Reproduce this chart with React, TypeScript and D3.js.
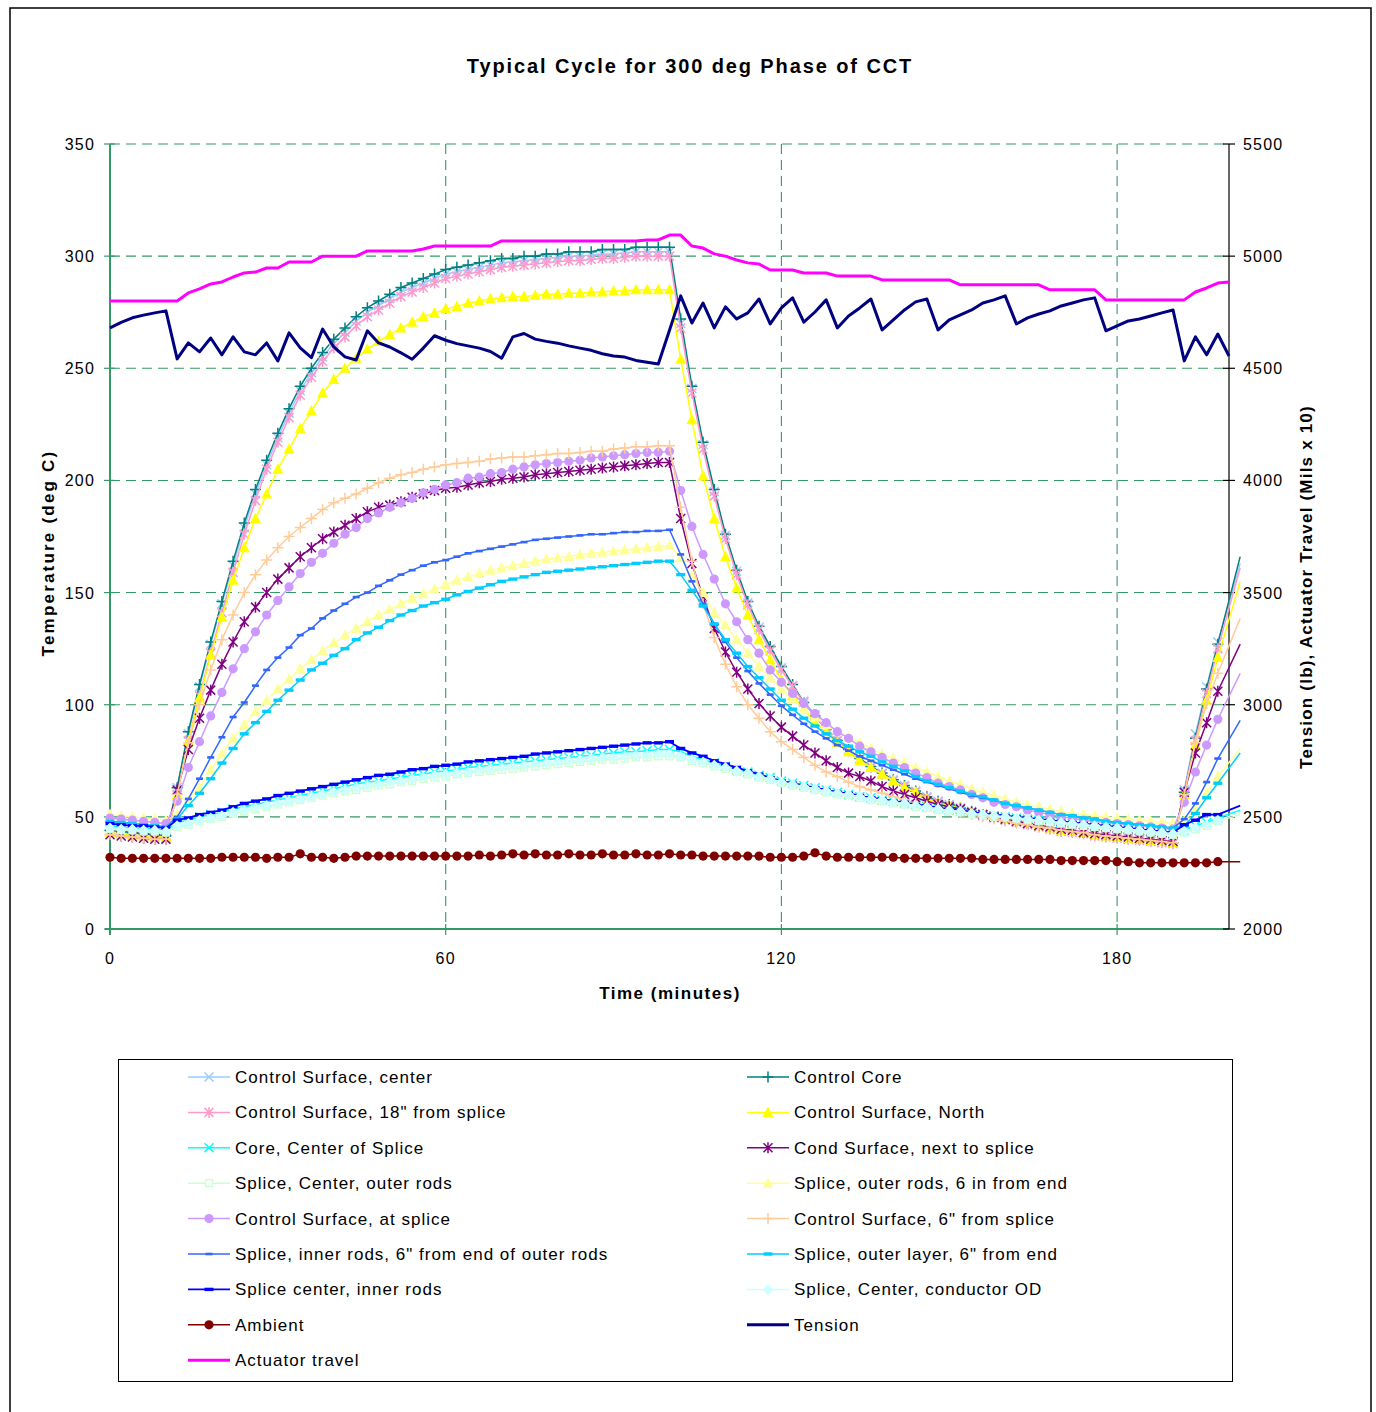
import React from 'react';
import * as d3 from 'd3';

// ---------- DATA ----------
const TEMP_MINUTES = [
  0, 2, 4, 6, 8, 10, 12, 14, 16, 18,
  20, 22, 24, 26, 28, 30, 32, 34, 36, 38,
  40, 42, 44, 46, 48, 50, 52, 54, 56, 58,
  60, 62, 64, 66, 68, 70, 72, 74, 76, 78,
  80, 82, 84, 86, 88, 90, 92, 94, 96, 98,
  100, 102, 104, 106, 108, 110, 112, 114, 116, 118,
  120, 122, 124, 126, 128, 130, 132, 134, 136, 138,
  140, 142, 144, 146, 148, 150, 152, 154, 156, 158,
  160, 162, 164, 166, 168, 170, 172, 174, 176, 178,
  180, 182, 184, 186, 188, 190, 192, 194, 196, 198,
  202,
];
const RIGHT_MINUTES = [
  0, 2, 4, 6, 8, 10, 12, 14, 16, 18,
  20, 22, 24, 26, 28, 30, 32, 34, 36, 38,
  40, 42, 44, 46, 48, 50, 52, 54, 56, 58,
  60, 62, 64, 66, 68, 70, 72, 74, 76, 78,
  80, 82, 84, 86, 88, 90, 92, 94, 96, 98,
  100, 102, 104, 106, 108, 110, 112, 114, 116, 118,
  120, 122, 124, 126, 128, 130, 132, 134, 136, 138,
  140, 142, 144, 146, 148, 150, 152, 154, 156, 158,
  160, 162, 164, 166, 168, 170, 172, 174, 176, 178,
  180, 182, 184, 186, 188, 190, 192, 194, 196, 198,
  200,
];
const LAST_MARKER_MINUTE = 198;

const CS_CENTER = [
  44, 43.5, 43, 42.5, 42, 41.5, 63, 87, 108, 127,
  145, 162, 179, 194, 207, 219, 230, 240, 248, 255,
  261, 266, 271, 275, 278, 281, 284, 286, 288, 290,
  292, 293, 294, 295, 296, 297, 297.5, 298, 298.5, 299,
  299.5, 300, 300, 300.5, 301, 301, 301.5, 302, 302, 302,
  302, 270, 241, 216, 195, 175.5, 159.5, 145.5, 134.5, 125,
  116.5, 108.5, 101.5, 95.5, 89.5, 84.5, 80, 76, 72.5, 69.5,
  66.5, 64, 61.5, 59, 57, 55.5, 54, 52.5, 51, 50,
  49, 48, 47, 46, 45, 44, 43.5, 43, 42, 41.5,
  41, 40.5, 40, 39.5, 39, 38.5, 62, 87, 108, 128,
  163,
];
const CONTROL_CORE = [
  44, 43.5, 43, 42.5, 42, 41.5, 63, 88, 109, 128,
  146, 164, 181, 196, 209, 221, 232, 242, 250, 257,
  263, 268, 273, 277, 280, 283, 286, 288, 290, 292,
  294, 295, 296, 297, 298, 299, 299, 300, 300, 301,
  301, 302, 302, 302, 303, 303, 303, 304, 304, 304,
  304, 272, 242, 217, 196, 176, 160, 146, 135, 126,
  117, 109, 101, 95, 89, 84, 80, 76, 72.5, 69.5,
  66.5, 64, 61.5, 59, 57, 55.5, 54, 52.5, 51, 50,
  49, 48, 47, 46, 45, 44, 43.5, 43, 42, 41.5,
  41, 40.5, 40, 39.5, 39, 38.5, 61, 85, 107, 127,
  166,
];
const CS_18IN = [
  43, 42.5, 42, 41.5, 41, 40.5, 60, 84, 104, 123,
  141, 159, 176, 191, 205, 217, 228, 238, 246, 253,
  259, 264, 269, 273, 276, 279, 282, 284, 286, 288,
  290, 291, 292, 293, 294, 295, 295.5, 296, 296.5, 297,
  297.5, 298, 298, 298.5, 299, 299, 299.5, 300, 300, 300,
  300, 268, 239, 214, 193, 174, 158, 144.5, 133.5, 124,
  115.5, 108, 101, 95, 89, 84, 79.5, 75.5, 72, 69,
  66, 63.5, 61, 58.5, 56.5, 55, 53.5, 52, 50.5, 49.5,
  48.5, 47.5, 46.5, 45.5, 44.5, 43.5, 43, 42.5, 41.5, 41,
  40.5, 40, 39.5, 39, 38.5, 38, 61, 84, 105, 125,
  161,
];
const CS_NORTH = [
  43, 42.5, 42, 41.5, 41.5, 41, 60, 83.5, 103, 122,
  139, 155.5, 170, 183, 194, 205, 214, 223, 231, 239,
  245, 250, 254.5, 258.5, 262, 265, 268, 270.5, 273, 274.5,
  276.5, 277.5, 279, 280, 281, 281.5, 282, 282, 282.5, 283,
  283, 283.5, 283.5, 284, 284, 284.5, 284.5, 285, 285, 285,
  285, 254, 227, 202, 183, 166, 152, 140, 129, 120,
  111, 104, 98, 92, 88, 83, 79, 75, 72, 69,
  66, 63, 61, 58, 56, 55, 54, 52, 51, 50,
  49, 48, 47, 46, 45, 44, 43.5, 43, 42, 41.5,
  41, 40.5, 40, 39.5, 39, 38.5, 60, 82, 102, 121,
  155,
];
const CORE_CENTER_SPLICE = [
  46, 45.5, 45, 45, 44.5, 44, 47.5, 48.5, 50, 51,
  52, 53.5, 54.5, 55.5, 56.5, 57.5, 58.5, 59.5, 60.5, 61.5,
  62.5, 63.5, 64.5, 65.5, 66, 67, 67.5, 68.5, 69, 70,
  70.5, 71, 72, 72.5, 73, 73.5, 74, 74.5, 75, 75.5,
  76, 76.5, 77, 77.5, 78, 78.5, 79, 79, 79.5, 80,
  80, 79, 77, 75.5, 74, 72.5, 71, 70, 68.5, 67.5,
  66, 65, 64, 63, 62, 61, 60, 59, 58.5, 57.5,
  57, 56, 55.5, 54.5, 54, 53, 52.5, 52, 51, 50.5,
  50, 49.5, 49, 48.5, 48, 47.5, 47, 46.5, 46, 45.5,
  45, 44.5, 44, 43.5, 43, 42.5, 44, 46, 47.5, 49.5,
  53,
];
const COND_SURFACE_NEXT = [
  42, 41.5, 41, 40.5, 40, 40, 62, 80, 94, 106.5,
  118, 128, 137, 143.5, 150, 156, 161, 166, 170, 174,
  177, 180, 183, 186, 188, 189, 190.5, 192.5, 194, 195.5,
  196.5, 197, 198, 199, 199.5, 200.5, 201, 201.5, 202.5, 203,
  203.5, 204, 204.5, 205, 205.5, 206, 206.5, 207, 207.5, 208,
  208, 183, 163, 148, 134, 123.5, 114.5, 107, 100.5, 95,
  90, 86, 82, 78.5, 75, 72, 69.5, 68, 66, 63.5,
  61.5, 60, 58.5, 57, 55.5, 54.5, 53.5, 52, 51, 50,
  49, 48, 47, 46, 45.5, 44.5, 44, 43, 42.5, 42,
  41.5, 41, 40.5, 40, 39.5, 39, 61, 78.5, 92, 106,
  127,
];
const SPLICE_CENTER_OUTER_RODS = [
  44.5, 44, 44, 43.5, 43.5, 43, 45.5, 46.5, 48, 49,
  50, 51.5, 52.5, 53.5, 54.5, 55.5, 56.5, 57.5, 58.5, 59.5,
  60.5, 61.5, 62, 63, 64, 64.5, 65.5, 66, 67, 67.5,
  68, 69, 69.5, 70, 70.5, 71, 71.5, 72, 72.5, 73,
  73.5, 74, 74.5, 75, 75.5, 75.5, 76, 76.5, 76.5, 77,
  77, 76.5, 75, 74, 72.5, 71.5, 70, 69, 67.5, 66.5,
  65, 64, 63, 62, 61, 60, 59.5, 58.5, 57.5, 57,
  56, 55.5, 54.5, 54, 53, 52.5, 52, 51, 50.5, 50,
  49.5, 49, 48.5, 48, 47.5, 47, 46.5, 46, 45.5, 45,
  44.5, 44, 43.5, 43, 42.5, 42, 43, 44.5, 46, 48,
  51,
];
const SPLICE_OUTER_RODS_6IN = [
  51, 50.5, 50, 49.5, 49, 48.5, 51, 57, 63, 71,
  78, 85, 91, 97, 102, 107, 111.5, 116, 120, 124,
  127.5, 131, 134, 137, 140, 142.5, 145, 147.5, 149.5, 151.5,
  153.5, 155.5, 157, 158.5, 160, 161, 162, 163, 164, 165,
  165.5, 166, 167, 167.5, 168, 168.5, 169, 169.5, 170, 170.5,
  171, 165.5, 157, 150, 141, 135.5, 129, 123, 117, 112,
  107, 102.5, 98, 94.5, 91, 88, 85.5, 83, 80.5, 78,
  76, 74, 72, 70, 68, 66, 64.5, 62.5, 61, 59.5,
  58, 56.5, 55.5, 54.5, 53.5, 52.5, 51.5, 51, 50.5, 50,
  49.5, 49, 48.5, 48, 47.5, 47, 48, 54, 60.5, 68,
  80.5,
];
const CS_AT_SPLICE = [
  49.5, 49, 48.5, 48, 47.5, 47, 57, 72, 83.5, 95,
  105.5, 116, 125, 132.5, 140, 146.5, 152.5, 158.5, 163.5, 167.5,
  172, 176, 179, 183, 185.5, 188, 190, 192, 194.5, 196,
  198, 199, 201, 201.5, 203, 203.5, 205, 206, 207, 207.5,
  208, 208.5, 209, 210, 210.5, 211, 211.5, 212, 212.5, 212.5,
  213, 195.5, 179.5, 167, 156, 145, 137, 129, 123, 115.5,
  110, 105, 100.5, 96, 92, 88, 85, 81.5, 79, 76.5,
  74, 72, 69.5, 67.5, 65, 63.5, 62, 60, 58.5, 56.5,
  55.5, 54.5, 53, 52, 51, 50, 49.5, 48.5, 48, 47.5,
  47, 46.5, 46, 45.5, 45, 44.5, 56.5, 70, 82, 93.5,
  114,
];
const CS_6IN = [
  42, 41.5, 41, 40.5, 40, 40, 60, 83, 100, 115.5,
  129, 140, 150, 158, 164.5, 170, 175, 179, 183, 187,
  190, 192, 194, 196.5, 199, 201, 202.5, 203.5, 205, 206,
  207, 207.5, 208, 208.5, 209.5, 210, 210.5, 210.5, 211, 211.5,
  212, 212, 212.5, 213, 213, 214, 214.5, 215, 215, 215.5,
  215.5, 188, 164, 145, 130, 118, 108, 100, 94, 88,
  83.5, 80, 76.5, 73, 70, 68, 65.5, 63.5, 62, 60.5,
  59, 57.5, 56, 55, 54, 53, 52, 51, 50, 49,
  48, 47, 46.5, 45.5, 45, 44, 43.5, 43, 42, 41.5,
  41, 40.5, 40, 39.5, 39, 38.5, 60, 83, 100.5, 114,
  138.5,
];
const SPLICE_INNER_RODS_6IN = [
  48, 47.5, 47, 46.5, 46, 45.5, 50, 58, 67, 76.5,
  85.5, 94.5, 101, 108.5, 115.5, 121, 125.5, 131, 134, 138.5,
  142, 145, 148, 150, 153, 155.5, 158, 160, 162, 163.5,
  164.5, 166, 167.5, 168.5, 169.5, 170.5, 171.5, 172.5, 173.5, 174,
  174.5, 175, 175.5, 176, 176, 176.5, 177, 177, 177.5, 177.5,
  178, 167, 155, 145, 136, 128, 121, 115, 109.5, 104.5,
  99.5, 95.5, 91.5, 88, 85, 82, 79.5, 77, 75, 73,
  71, 69, 67, 65.5, 64, 62.5, 61, 59.5, 58.5, 57.5,
  56, 55, 54, 53, 52, 51, 50.5, 49.5, 49, 48,
  47.5, 47, 46.5, 46, 45.5, 45, 49, 56, 65.5, 76,
  93,
];
const SPLICE_OUTER_LAYER_6IN = [
  48, 47.5, 47, 46.5, 46, 45.5, 49, 55, 60.5, 67,
  74, 80.5, 87, 92, 97, 102, 106.5, 111, 115.5, 118.5,
  122, 125, 129, 132, 134.5, 137.5, 140, 142, 144, 145.5,
  147, 149, 150.5, 152, 153.5, 155, 156, 157, 158, 159,
  159.5, 160, 160.5, 161, 161.5, 162, 162.5, 163, 163.5, 164,
  164, 158, 151, 144, 136, 129, 123, 117, 112, 107,
  102, 98, 94, 90.5, 87, 84, 81.5, 79, 77, 74.5,
  72.5, 70.5, 68, 66, 64.5, 63, 61.5, 60, 59, 57.5,
  56, 55, 54, 53, 52, 51, 50.5, 49.5, 49, 48,
  47.5, 47, 46.5, 46, 45.5, 45, 46, 51.5, 58.5, 65,
  78.5,
];
const SPLICE_CENTER_INNER_RODS = [
  47, 46.5, 46, 46, 45.5, 45, 48.5, 49.5, 51, 52,
  53, 54.5, 56, 57, 58, 59.5, 60.5, 61.5, 62.5, 63.5,
  64.5, 65.5, 66.5, 67.5, 68.5, 69, 70, 71, 71.5, 72.5,
  73, 73.5, 74.5, 75, 75.5, 76, 76.5, 77, 78, 78.5,
  79, 79.5, 80, 80.5, 81, 81.5, 82, 82.5, 83, 83,
  83.5, 80.5, 78.5, 77, 75, 73.5, 72, 70.5, 69, 67.5,
  66, 65, 64, 63, 62, 61, 60.5, 59.5, 58.5, 58,
  57, 56.5, 55.5, 55, 54, 53.5, 53, 52, 51.5, 51,
  50.5, 50, 49.5, 49, 48.5, 48, 47.5, 47, 46.5, 46,
  45.5, 45, 44.5, 44, 43.5, 43, 46.5, 48.5, 51, 51,
  55,
];
const SPLICE_CENTER_CONDUCTOR_OD = [
  45, 44.5, 44.5, 44, 44, 43.5, 46, 47, 48.5, 49.5,
  50.5, 52, 53, 54, 55, 56, 57, 58, 59, 60,
  61, 62, 63, 64, 64.5, 65.5, 66, 67, 67.5, 68.5,
  69, 69.5, 70, 71, 71.5, 72, 72.5, 73, 73.5, 74,
  74.5, 75, 75.5, 76, 76.5, 76.5, 77, 77.5, 77.5, 78,
  78, 77, 75.5, 74.5, 73, 72, 70.5, 69.5, 68, 67,
  65.5, 64.5, 63.5, 62.5, 61.5, 60.5, 60, 59, 58, 57.5,
  56.5, 56, 55, 54.5, 53.5, 53, 52.5, 51.5, 51, 50.5,
  50, 49.5, 49, 48.5, 48, 47.5, 47, 46.5, 46, 45.5,
  45, 44.5, 44, 43.5, 43, 42.5, 43.5, 45, 46.5, 48.5,
  52,
];
const AMBIENT = [
  32, 31.5, 31.5, 31.5, 31.5, 31.5, 31.5, 31.5, 31.5, 31.5,
  32, 32, 32, 32, 31.5, 32, 32, 33.5, 32, 32,
  31.5, 32, 32.5, 32.5, 32.5, 32.5, 32.5, 32.5, 32.5, 32.5,
  32.5, 32.5, 32.5, 33, 32.5, 33, 33.5, 33, 33.5, 33,
  33, 33.5, 33, 33, 33.5, 33, 33, 33.5, 33, 33,
  33.5, 33, 33, 32.5, 32.5, 32.5, 32.5, 32.5, 32.5, 32,
  32, 32, 32.5, 34, 32.5, 32, 32, 32, 32, 32,
  32, 31.5, 31.5, 31.5, 31.5, 31.5, 31.5, 31.5, 31, 31,
  31, 31, 31, 31, 31, 30.5, 30.5, 30.5, 30.5, 30.5,
  30, 30, 29.5, 29.5, 29.5, 29.5, 29.5, 29.5, 29.5, 30,
  30,
];
const TENSION = [
  4680, 4705, 4725, 4737, 4747, 4756, 4542, 4613, 4573, 4635,
  4560, 4640, 4573, 4560, 4613, 4533, 4658, 4591, 4547, 4675,
  4595, 4551, 4537, 4667, 4613, 4595, 4569, 4540, 4590, 4645,
  4625, 4610, 4600, 4590, 4575, 4545, 4640, 4655, 4630, 4620,
  4612, 4600, 4590, 4580, 4565, 4555, 4550, 4535, 4527, 4519,
  4670, 4823, 4702, 4791, 4680, 4774, 4720, 4747, 4809, 4698,
  4769, 4814, 4706, 4751, 4805, 4680, 4733, 4769, 4809, 4671,
  4716, 4760, 4796, 4809, 4671, 4716, 4738, 4760, 4791, 4805,
  4823, 4698, 4725, 4742, 4756, 4778, 4791, 4805, 4814, 4667,
  4689, 4711, 4720, 4733, 4747, 4760, 4533, 4640, 4560, 4653,
  4555,
];
const ACTUATOR = [
  4800, 4800, 4800, 4800, 4800, 4800, 4800, 4836, 4854, 4876,
  4885, 4907, 4925, 4929, 4947, 4947, 4974, 4974, 4974, 5000,
  5000, 5000, 5000, 5023, 5023, 5023, 5023, 5023, 5032, 5045,
  5045, 5045, 5045, 5045, 5045, 5068, 5068, 5068, 5068, 5068,
  5068, 5068, 5068, 5068, 5068, 5068, 5068, 5068, 5072, 5072,
  5094, 5094, 5045, 5036, 5010, 5000, 4983, 4970, 4965, 4938,
  4938, 4938, 4925, 4925, 4925, 4911, 4911, 4911, 4911, 4894,
  4894, 4894, 4894, 4894, 4894, 4894, 4872, 4872, 4872, 4872,
  4872, 4872, 4872, 4872, 4850, 4850, 4850, 4850, 4850, 4805,
  4805, 4805, 4805, 4805, 4805, 4805, 4805, 4840, 4858, 4880,
  4885,
];

const LEFT_TICKS = [0, 50, 100, 150, 200, 250, 300, 350];
const RIGHT_TICKS = [2000, 2500, 3000, 3500, 4000, 4500, 5000, 5500];
const X_TICKS = [0, 60, 120, 180];

const TITLE = 'Typical Cycle for 300 deg Phase of CCT';
const X_TITLE = 'Time (minutes)';
const Y_LEFT_TITLE = 'Temperature (deg C)';
const Y_RIGHT_TITLE = 'Tension (lb), Actuator Travel (Mils x 10)';

type MarkerType = 'x' | 'star' | 'plus' | 'tri' | 'circle' | 'square' | 'dash' | 'dashBold' | 'diamond' | 'none';
interface Series {
  name: string;
  values: number[];
  color: string;
  marker: MarkerType;
  axis: 'L' | 'R';
  width: number;
}

const SERIES: Series[] = [
  { name: 'Control Surface, center', values: CS_CENTER, color: '#99CCFF', marker: 'x', axis: 'L', width: 1.5 },
  { name: 'Control Core', values: CONTROL_CORE, color: '#008080', marker: 'plus', axis: 'L', width: 1.5 },
  { name: 'Control Surface, 18" from splice', values: CS_18IN, color: '#FF99CC', marker: 'star', axis: 'L', width: 1.5 },
  { name: 'Control Surface, North', values: CS_NORTH, color: '#FFFF00', marker: 'tri', axis: 'L', width: 1.5 },
  { name: 'Core, Center of Splice', values: CORE_CENTER_SPLICE, color: '#00FFFF', marker: 'x', axis: 'L', width: 1.5 },
  { name: 'Cond Surface, next to splice', values: COND_SURFACE_NEXT, color: '#800080', marker: 'star', axis: 'L', width: 1.5 },
  { name: 'Splice, Center, outer rods', values: SPLICE_CENTER_OUTER_RODS, color: '#CCFFCC', marker: 'square', axis: 'L', width: 1.5 },
  { name: 'Splice, outer rods, 6 in from end', values: SPLICE_OUTER_RODS_6IN, color: '#FFFF99', marker: 'tri', axis: 'L', width: 1.5 },
  { name: 'Control Surface, at splice', values: CS_AT_SPLICE, color: '#CC99FF', marker: 'circle', axis: 'L', width: 1.5 },
  { name: 'Control Surface, 6" from splice', values: CS_6IN, color: '#FFCC99', marker: 'plus', axis: 'L', width: 1.5 },
  { name: 'Splice, inner rods, 6" from end of outer rods', values: SPLICE_INNER_RODS_6IN, color: '#3366FF', marker: 'dash', axis: 'L', width: 1.5 },
  { name: 'Splice, outer layer, 6" from end', values: SPLICE_OUTER_LAYER_6IN, color: '#00CCFF', marker: 'dashBold', axis: 'L', width: 1.5 },
  { name: 'Splice center, inner rods', values: SPLICE_CENTER_INNER_RODS, color: '#0000FF', marker: 'dashBold', axis: 'L', width: 1.8 },
  { name: 'Splice, Center, conductor OD', values: SPLICE_CENTER_CONDUCTOR_OD, color: '#CCFFFF', marker: 'diamond', axis: 'L', width: 1.5 },
  { name: 'Ambient', values: AMBIENT, color: '#800000', marker: 'circle', axis: 'L', width: 1.5 },
  { name: 'Tension', values: TENSION, color: '#000080', marker: 'none', axis: 'R', width: 3 },
  { name: 'Actuator travel', values: ACTUATOR, color: '#FF00FF', marker: 'none', axis: 'R', width: 3 },
];

// ---------- LAYOUT ----------
const W = 1376;
const H = 1412;
const PLOT = { left: 110, right: 1229, top: 144, bottom: 929 };
const FONT = "'Liberation Sans', Arial, Helvetica, sans-serif";
const GRID = '#339966';

const x = d3.scaleLinear().domain([0, 200]).range([PLOT.left, PLOT.right]);
const yL = d3.scaleLinear().domain([0, 350]).range([PLOT.bottom, PLOT.top]);
const yR = d3.scaleLinear().domain([2000, 5500]).range([PLOT.bottom, PLOT.top]);

function Marker({ type, cx, cy, color }: { type: MarkerType; cx: number; cy: number; color: string }) {
  const s = 4.5;
  switch (type) {
    case 'x':
      return <path d={`M${cx - s},${cy - s}L${cx + s},${cy + s}M${cx - s},${cy + s}L${cx + s},${cy - s}`} stroke={color} strokeWidth={1.5} fill="none" />;
    case 'star':
      return <path d={`M${cx - s},${cy - s}L${cx + s},${cy + s}M${cx - s},${cy + s}L${cx + s},${cy - s}M${cx},${cy - s - 1}L${cx},${cy + s + 1}`} stroke={color} strokeWidth={1.5} fill="none" />;
    case 'plus':
      return <path d={`M${cx - 5.5},${cy}L${cx + 5.5},${cy}M${cx},${cy - 5.5}L${cx},${cy + 5.5}`} stroke={color} strokeWidth={1.5} fill="none" />;
    case 'tri':
      return <path d={`M${cx},${cy - 6}L${cx + 5.5},${cy + 4.5}L${cx - 5.5},${cy + 4.5}Z`} fill={color} />;
    case 'circle':
      return <circle cx={cx} cy={cy} r={4.6} fill={color} />;
    case 'square':
      return <rect x={cx - 3.5} y={cy - 3.5} width={7} height={7} fill="#fff" stroke={color} strokeWidth={1.3} />;
    case 'dash':
      return <rect x={cx - 3.5} y={cy - 1.3} width={7} height={2.6} fill={color} />;
    case 'dashBold':
      return <rect x={cx - 4.5} y={cy - 1.7} width={9} height={3.4} fill={color} />;
    case 'diamond':
      return <path d={`M${cx},${cy - 5.5}L${cx + 5.5},${cy}L${cx},${cy + 5.5}L${cx - 5.5},${cy}Z`} fill={color} />;
    default:
      return null;
  }
}

export default function App() {
  const lineFor = (s: Series) => {
    const mins = s.axis === 'L' ? TEMP_MINUTES : RIGHT_MINUTES;
    const yScale = s.axis === 'L' ? yL : yR;
    return d3
      .line<number>()
      .x((_, i) => x(mins[i]))
      .y((v) => yScale(v))(s.values) as string;
  };

  const legendRowY = (row: number) => 1077 + row * 35.4;

  return (
    <svg
      width={W}
      height={H}
      viewBox={`0 0 ${W} ${H}`}
      style={{ position: 'absolute', left: 0, top: 0, background: '#fff' }}
      fontFamily={FONT}
    >
      <rect x={0} y={0} width={W} height={H} fill="#fff" />
      {/* outer frame */}
      <rect x={10} y={8} width={1361} height={1430} fill="none" stroke="#000" strokeWidth={1.5} />

      {/* title */}
      <text x={690} y={73} textAnchor="middle" fontSize={20} fontWeight="bold" letterSpacing={1.9}>
        {TITLE}
      </text>

      {/* gridlines */}
      {LEFT_TICKS.filter((v) => v > 0).map((v) => (
        <line key={`hg${v}`} x1={PLOT.left} x2={PLOT.right} y1={yL(v)} y2={yL(v)} stroke={GRID} strokeWidth={1.1} strokeDasharray="10,6" />
      ))}
      {X_TICKS.filter((v) => v > 0).map((v) => (
        <line key={`vg${v}`} x1={x(v)} x2={x(v)} y1={PLOT.top} y2={PLOT.bottom} stroke={GRID} strokeWidth={1.1} strokeDasharray="10,6" />
      ))}

      {/* axes */}
      <line x1={PLOT.left} x2={PLOT.left} y1={PLOT.top} y2={PLOT.bottom + 6} stroke={GRID} strokeWidth={2} />
      <line x1={PLOT.left - 5} x2={PLOT.right} y1={PLOT.bottom} y2={PLOT.bottom} stroke={GRID} strokeWidth={2} />
      <line x1={PLOT.right} x2={PLOT.right} y1={PLOT.top} y2={PLOT.bottom} stroke="#000" strokeWidth={1.2} />
      {LEFT_TICKS.map((v) => (
        <g key={`lt${v}`}>
          <line x1={PLOT.left - 6} x2={PLOT.left + 5} y1={yL(v)} y2={yL(v)} stroke={GRID} strokeWidth={1.2} />
          <text x={95} y={yL(v) + 6} textAnchor="end" fontSize={16} letterSpacing={1.2}>
            {v}
          </text>
        </g>
      ))}
      {RIGHT_TICKS.map((v) => (
        <g key={`rt${v}`}>
          <line x1={PLOT.right - 6} x2={PLOT.right + 6} y1={yR(v)} y2={yR(v)} stroke="#000" strokeWidth={1.2} />
          <text x={1243} y={yR(v) + 6} textAnchor="start" fontSize={16} letterSpacing={1.2}>
            {v}
          </text>
        </g>
      ))}
      {X_TICKS.map((v) => (
        <g key={`xt${v}`}>
          <line x1={x(v)} x2={x(v)} y1={PLOT.bottom - 5} y2={PLOT.bottom + 6} stroke={GRID} strokeWidth={1.2} />
          <text x={x(v)} y={964} textAnchor="middle" fontSize={16} letterSpacing={1.2}>
            {v}
          </text>
        </g>
      ))}

      {/* axis titles */}
      <text x={670} y={999} textAnchor="middle" fontSize={17} fontWeight="bold" letterSpacing={1.5}>
        {X_TITLE}
      </text>
      <text transform="translate(54,553) rotate(-90)" textAnchor="middle" fontSize={17} fontWeight="bold" letterSpacing={2.2}>
        {Y_LEFT_TITLE}
      </text>
      <text transform="translate(1312,587) rotate(-90)" textAnchor="middle" fontSize={17} fontWeight="bold" letterSpacing={1.2}>
        {Y_RIGHT_TITLE}
      </text>

      {/* series */}
      {SERIES.map((s, si) => {
        const mins = s.axis === 'L' ? TEMP_MINUTES : RIGHT_MINUTES;
        const yScale = s.axis === 'L' ? yL : yR;
        return (
          <g key={`s${si}`}>
            <path d={lineFor(s)} fill="none" stroke={s.color} strokeWidth={s.width} strokeLinejoin="round" />
            {s.marker !== 'none' &&
              s.values.map((v, i) =>
                mins[i] <= LAST_MARKER_MINUTE ? (
                  <Marker key={i} type={s.marker} cx={x(mins[i])} cy={yScale(v)} color={s.color} />
                ) : null
              )}
          </g>
        );
      })}

      {/* legend */}
      <rect x={118.5} y={1059.5} width={1114} height={322} fill="#fff" stroke="#000" strokeWidth={1} />
      {SERIES.map((s, i) => {
        const col = i % 2;
        const row = Math.floor(i / 2);
        const x0 = col === 0 ? 188 : 747;
        const cy = legendRowY(row);
        return (
          <g key={`lg${i}`}>
            <line x1={x0} x2={x0 + 42} y1={cy} y2={cy} stroke={s.color} strokeWidth={s.width} />
            <Marker type={s.marker} cx={x0 + 21} cy={cy} color={s.color} />
            <text x={x0 + 47} y={cy + 6} fontSize={17} letterSpacing={1}>
              {s.name}
            </text>
          </g>
        );
      })}
    </svg>
  );
}
